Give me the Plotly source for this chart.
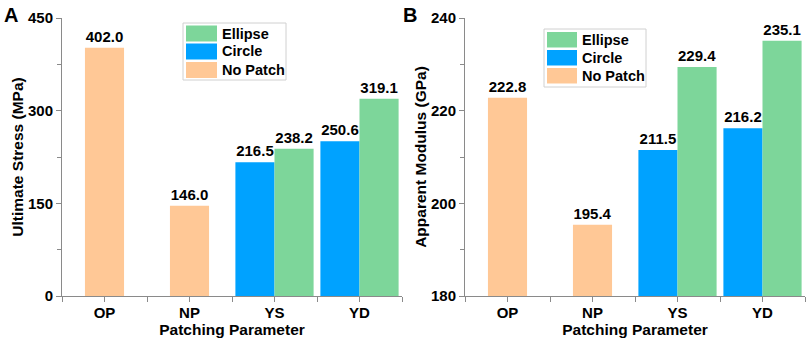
import plotly.graph_objects as go

categories = ["OP", "NP", "YS", "YD"]
series_names = ["No Patch", "Circle", "Ellipse"]

stress_no_patch = [402.0, 146.0, None, None]
stress_circle = [None, None, 216.5, 250.6]
stress_ellipse = [None, None, 238.2, 319.1]

modulus_no_patch = [222.8, 195.4, None, None]
modulus_circle = [None, None, 211.5, 216.2]
modulus_ellipse = [None, None, 229.4, 235.1]

colors = {"No Patch": "#FFC896", "Circle": "#00A2FF", "Ellipse": "#7DD69A"}
offsets = {"No Patch": -0.23, "Circle": -0.46, "Ellipse": 0.0}
BW = 0.46
FONT = "Liberation Sans, Arial, sans-serif"
W, H = 809, 341

xpos = list(range(len(categories)))

fig = go.Figure()

def add_bars(values_map, xa, ya):
    for name in series_names:
        fig.add_trace(go.Bar(
            x=xpos, y=values_map[name], name=name,
            width=BW, offset=offsets[name],
            marker=dict(color=colors[name], line=dict(width=0)),
            texttemplate="%{y:.1f}", textposition="outside",
            textfont=dict(family=FONT, size=15, color="black", weight="bold"),
            cliponaxis=False, constraintext="none",
            xaxis=xa, yaxis=ya, showlegend=False,
        ))

add_bars({"No Patch": stress_no_patch, "Circle": stress_circle, "Ellipse": stress_ellipse}, "x", "y")
add_bars({"No Patch": modulus_no_patch, "Circle": modulus_circle, "Ellipse": modulus_ellipse}, "x2", "y2")

ydom = [1 - 296 / H, 1 - 18 / H]
axcol = "#8a8a8a"
tickfont = dict(family=FONT, size=15, color="black", weight="bold")
titlefont = dict(family=FONT, size=15.5, color="black", weight="bold")

def xaxis_cfg(dom, anchor):
    return dict(
        domain=dom, range=[-0.5, 3.5], tickvals=xpos, ticktext=categories, anchor=anchor,
        ticks="outside", ticklen=5, tickcolor=axcol, showline=True, linecolor=axcol,
        linewidth=1, showgrid=False, zeroline=False, tickfont=tickfont, automargin=False,
        ticklabelstandoff=-2,
        minor=dict(tickvals=[-0.5, 0.5, 1.5, 2.5, 3.5], ticks="outside", ticklen=5, tickcolor=axcol),
        title=dict(text="Patching Parameter", font=titlefont, standoff=0),
    )

def yaxis_cfg(rng, dt, mdt, title, anchor):
    return dict(
        domain=ydom, range=rng, dtick=dt, tick0=rng[0], ticks="outside", ticklen=5,
        tickcolor=axcol, showline=True, linecolor=axcol, linewidth=1, showgrid=False,
        zeroline=False, tickfont=tickfont, anchor=anchor, automargin=False,
        minor=dict(dtick=mdt, tick0=rng[0], ticks="outside", ticklen=4, tickcolor=axcol, showgrid=False),
        title=dict(text=title, font=titlefont, standoff=0),
    )

fig.update_layout(
    width=W, height=H, margin=dict(l=0, r=0, t=0, b=0),
    paper_bgcolor="white", plot_bgcolor="white", barmode="overlay",
    xaxis=xaxis_cfg([62 / W, 402 / W], "y"),
    xaxis2=xaxis_cfg([465 / W, 805 / W], "y2"),
    yaxis=yaxis_cfg([0, 450], 150, 75, "Ultimate Stress (MPa)", "x"),
    yaxis2=yaxis_cfg([180, 240], 20, 10, "Apparent Modulus (GPa)", "x2"),
    font=dict(family=FONT),
)

shapes = []
annotations = []

def px_x(v):
    return v / W

def px_y(v):
    return 1 - v / H

def add_legend(box, sw_x, rows, text_x):
    x0, y0, x1, y1 = box
    shapes.append(dict(type="rect", xref="paper", yref="paper",
                       x0=px_x(x0), x1=px_x(x1), y0=px_y(y1), y1=px_y(y0),
                       line=dict(color="#d0d0d0", width=1), fillcolor="white", layer="above"))
    for name, (ry0, ry1) in zip(["Ellipse", "Circle", "No Patch"], rows):
        shapes.append(dict(type="rect", xref="paper", yref="paper",
                           x0=px_x(sw_x[0]), x1=px_x(sw_x[1]), y0=px_y(ry1), y1=px_y(ry0),
                           line=dict(width=0), fillcolor=colors[name], layer="above"))
        annotations.append(dict(text=name, xref="paper", yref="paper", x=px_x(text_x),
                                y=px_y((ry0 + ry1) / 2), xanchor="left", yanchor="middle",
                                showarrow=False, font=dict(family=FONT, size=14.5, color="black", weight="bold")))

add_legend((183, 23, 286, 80), (186, 217), [(25.5, 41.5), (43.5, 59.5), (62, 78)], 220)
add_legend((544, 29, 646, 87), (547, 577), [(32, 47.5), (50, 65.5), (68, 83.5)], 580)

annotations.append(dict(text="A", xref="paper", yref="paper", x=px_x(2), y=px_y(2),
                        xanchor="left", yanchor="top", showarrow=False,
                        font=dict(family=FONT, size=20, color="black", weight="bold")))
annotations.append(dict(text="B", xref="paper", yref="paper", x=px_x(401), y=px_y(2),
                        xanchor="left", yanchor="top", showarrow=False,
                        font=dict(family=FONT, size=20, color="black", weight="bold")))

fig.update_layout(shapes=shapes, annotations=annotations)
fig.write_html("out.html", config={"displayModeBar": False},
               post_script="document.body.style.margin='0';document.body.style.overflow='hidden';")
